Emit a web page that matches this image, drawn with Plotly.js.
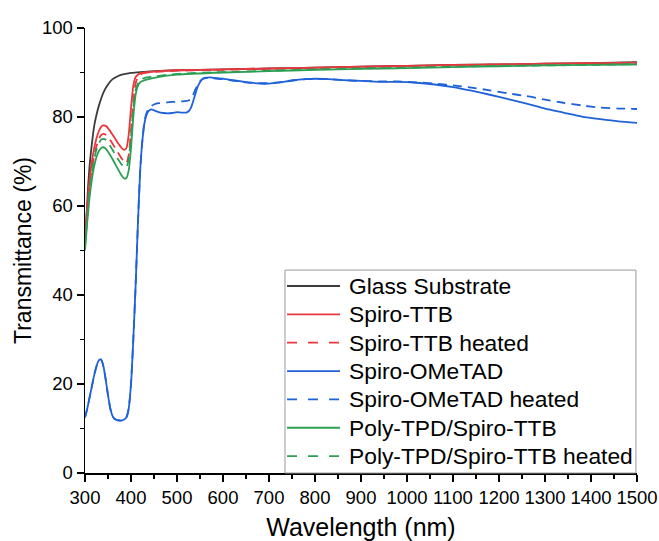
<!DOCTYPE html>
<html>
<head>
<meta charset="utf-8">
<script src="https://cdn.plot.ly/plotly-3.0.1.min.js"></script>
<style>html,body{margin:0;padding:0;background:#fff}#chart{width:659px;height:541px}</style>
</head>
<body>
<div id="chart"></div>
<script>
// ---- data ----
const seriesNames = ["Glass Substrate","Spiro-TTB","Spiro-TTB heated","Spiro-OMeTAD","Spiro-OMeTAD heated","Poly-TPD/Spiro-TTB","Poly-TPD/Spiro-TTB heated"];

const wlGlass = [300,303,306,310,315,320,325,330,340,350,360,370,380,400,420,450,500,600,700,800,900,1000,1100,1200,1300,1400,1500];
const glass   = [52,57,63,69,74,78,80.5,82.5,85.5,87.3,88.5,89.1,89.5,89.9,90.1,90.3,90.5,90.7,90.9,91.1,91.3,91.5,91.7,91.8,92,92.1,92.3];

const wlTTB = [300,305,310,315,320,325,330,335,340,345,350,360,370,380,385,390,395,400,405,410,415,420,430,450,500,600,700,800,900,1000,1100,1200,1300,1400,1500];
const spiroTTB       = [53,60,66,70,73,75.2,76.8,77.8,78.1,78,77.5,76,74.4,73,72.6,73,76,82,87,89,89.5,89.8,90,90.2,90.5,90.7,90.9,91.1,91.3,91.5,91.7,91.8,92,92.1,92.2];
const spiroTTBHeated = [52,58.5,64.5,68.5,71.3,73.5,75,75.9,76.2,76,75.5,74,72.3,70.6,70,69.6,71.5,77,83.5,87.5,89,89.5,89.9,90.1,90.4,90.6,90.8,91,91.2,91.4,91.6,91.8,91.9,92,92.1];
const polyTPD        = [50,56.5,62,66,69,71,72.3,73,73.2,72.9,72.2,70.5,68.6,66.8,66.2,66.3,68,73,80,85,87,87.8,88.3,88.8,89.5,90,90.3,90.6,90.8,91,91.2,91.4,91.6,91.7,91.8];
const polyTPDHeated  = [51,57.5,63.5,67.5,70.5,72.7,74,74.9,75.1,74.9,74.3,72.6,70.8,69.3,68.8,68.7,70.5,75.5,82,86,87.5,88.3,88.8,89.1,89.7,90.1,90.4,90.7,90.9,91.1,91.3,91.5,91.6,91.7,91.9];

const wlOMe = [300,305,310,315,320,325,330,335,340,345,350,355,360,365,370,375,380,385,390,395,400,405,410,415,420,425,430,435,440,445,450,460,470,480,490,500,510,520,525,530,535,540,545,550,555,560,570,580,600,620,640,660,680,700,720,750,780,800,830,860,900,940,980,1020,1060,1100,1140,1180,1220,1260,1300,1340,1380,1420,1460,1500];
const spiroOMe = [12.5,14.5,17,19.5,22,24,25.3,25.5,24,21,17.5,14.5,12.8,12.1,11.9,11.8,11.8,12,12.5,14.5,20,30,42,56,68,75,79,80.8,81.5,81.7,81.5,81.1,80.9,80.8,80.9,81.1,81,81,81.3,82,83.5,85.2,86.8,87.8,88.5,88.8,88.9,88.8,88.6,88.3,88,87.7,87.5,87.5,87.7,88.2,88.5,88.6,88.5,88.3,88.1,87.9,87.9,87.7,87.3,86.7,85.9,85,84,83,81.9,81,80.1,79.5,79,78.7];
const spiroOMeHeated = [12.5,14.5,17,19.5,22,24,25.3,25.5,24,21,17.5,14.5,12.8,12.1,11.9,11.8,11.8,12,12.5,14.5,20,30,42,56,68,75,79.5,81.2,82,82.5,82.8,83.1,83.2,83.3,83.4,83.4,83.5,83.6,83.7,84,85,86.2,87.2,88,88.5,88.7,88.8,88.7,88.5,88.2,87.9,87.7,87.6,87.6,87.8,88.2,88.5,88.6,88.5,88.3,88.1,88,88,87.8,87.5,87.1,86.6,86,85.3,84.7,83.9,83.2,82.6,82.1,81.9,81.8];

const xTicks = [300,400,500,600,700,800,900,1000,1100,1200,1300,1400,1500];
const yTicks = [0,20,40,60,80,100];

// ---- styles ----
const colors = ["#3c3c3c","#e8383d","#e8383d","#1f62d8","#1f62d8","#2c9f55","#2c9f55"];
const dashes = ["solid","solid","9px,6px","solid","9px,6px","solid","9px,6px"];
const legendDashes = ["solid","solid","10px,11px","solid","10px,11px","solid","10px,11px"];
const xs = [wlGlass, wlTTB, wlTTB, wlOMe, wlOMe, wlTTB, wlTTB];
const ys = [glass, spiroTTB, spiroTTBHeated, spiroOMe, spiroOMeHeated, polyTPD, polyTPDHeated];

const traces = seriesNames.map((n,i)=>({
  type:"scatter", mode:"lines", name:n, x:xs[i], y:ys[i],
  line:{color:colors[i], width:1.8, dash:dashes[i], shape:"spline", smoothing:0.6}
}));

// ---- legend box (drawn as layout items, paper coordinates of the plot area) ----
const FONT = "Liberation Sans, Arial, sans-serif";
const legX0 = 0.3623, legX1 = 0.998, legY0 = 0, legY1 = 0.456;
const rowTop = 0.4202, rowStep = 0.0637;
const lineX0 = 0.366, lineX1 = 0.462, textX = 0.4746;
const shapes = [{type:"rect", xref:"paper", yref:"paper", x0:legX0, x1:legX1, y0:legY0, y1:legY1,
                 fillcolor:"#fff", line:{color:"#9a9a9a", width:1}, layer:"above"}];
const annotations = [];
seriesNames.forEach((n,i)=>{
  const yy = rowTop - i*rowStep;
  shapes.push({type:"line", xref:"paper", yref:"paper", x0:lineX0, x1:lineX1, y0:yy, y1:yy,
               line:{color:colors[i], width:1.8, dash:legendDashes[i]}, layer:"above"});
  annotations.push({xref:"paper", yref:"paper", x:textX, y:yy, xanchor:"left", yanchor:"middle",
                    text:n, showarrow:false, font:{family:FONT, size:22.8, color:"#000"}});
});

const layout = {
  width:659, height:541,
  margin:{l:85, r:22, t:28, b:68},
  paper_bgcolor:"#fff", plot_bgcolor:"#fff",
  font:{family:FONT, color:"#000"},
  showlegend:false,
  shapes:shapes, annotations:annotations,
  xaxis:{range:[300,1500], tickvals:xTicks, ticktext:xTicks.map(String),
         showgrid:false, zeroline:false, showline:true, linecolor:"#000", linewidth:1.5,
         ticks:"outside", ticklen:7, tickwidth:1.5, tickcolor:"#000",
         tickfont:{family:FONT, size:18.5, color:"#000"},
         minor:{dtick:50, tick0:300, ticks:"outside", ticklen:4, tickwidth:1.5, tickcolor:"#000", showgrid:false},
         title:{text:"Wavelength (nm)", font:{family:FONT, size:25, color:"#000"}, standoff:15}},
  yaxis:{range:[0,100], tickvals:yTicks, ticktext:yTicks.map(String),
         showgrid:false, zeroline:false, showline:true, linecolor:"#000", linewidth:1.5,
         ticks:"outside", ticklen:7, tickwidth:1.5, tickcolor:"#000",
         tickfont:{family:FONT, size:18.5, color:"#000"},
         minor:{dtick:10, tick0:0, ticks:"outside", ticklen:4, tickwidth:1.5, tickcolor:"#000", showgrid:false},
         title:{text:"Transmittance (%)", font:{family:FONT, size:23, color:"#000"}, standoff:4}}
};

Plotly.newPlot("chart", traces, layout, {displayModeBar:false, staticPlot:true});
</script>
</body>
</html>
